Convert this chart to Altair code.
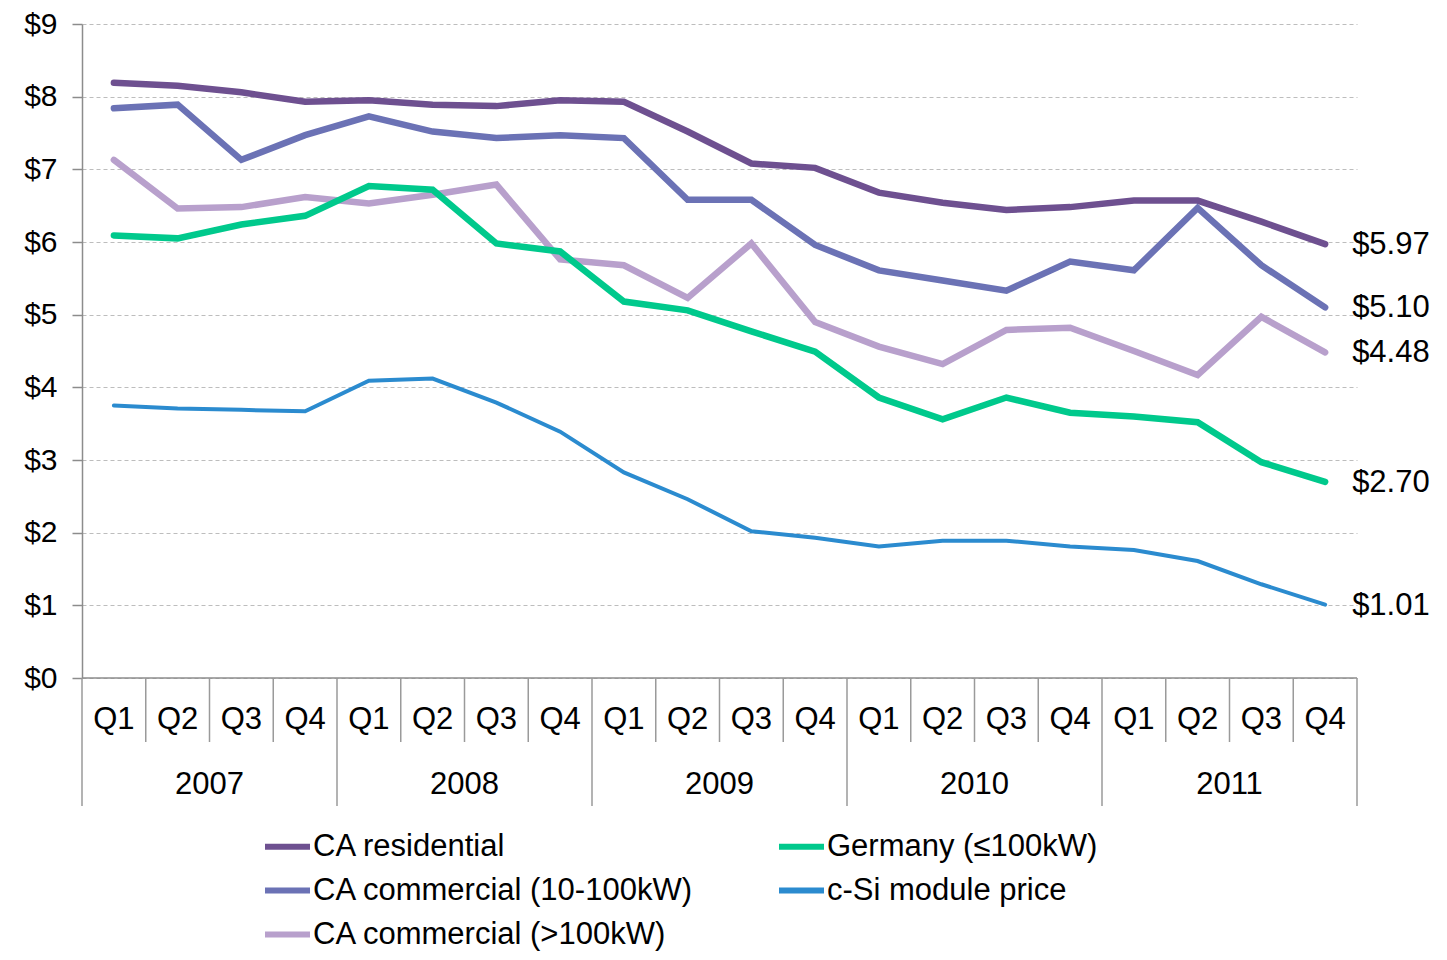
import altair as alt
import pandas as pd

# ---- data ----
quarter_labels = ["Q1", "Q2", "Q3", "Q4"] * 5
year_labels = ["2007", "2008", "2009", "2010", "2011"]

# legend is laid out column by column: left column first, then right column
series_order = [
    "CA residential",
    "CA commercial (10-100kW)",
    "CA commercial (>100kW)",
    "Germany (≤100kW)",
    "c-Si module price",
]
series_colors = ["#6E5090", "#6B72B5", "#B8A0CC", "#00C98C", "#2B8BCF"]

ca_residential = [8.19, 8.15, 8.06, 7.93, 7.95, 7.89, 7.87, 7.95, 7.93, 7.52,
                  7.08, 7.02, 6.68, 6.54, 6.44, 6.48, 6.57, 6.57, 6.28, 5.97]
ca_commercial_small = [7.84, 7.89, 7.13, 7.47, 7.73, 7.52, 7.43, 7.47, 7.43, 6.58,
                       6.58, 5.96, 5.61, 5.47, 5.33, 5.73, 5.61, 6.47, 5.68, 5.10]
ca_commercial_large = [7.13, 6.46, 6.48, 6.62, 6.53, 6.65, 6.79, 5.76, 5.68, 5.23,
                       5.98, 4.90, 4.56, 4.32, 4.79, 4.82, 4.50, 4.17, 4.97, 4.48]
germany = [6.09, 6.05, 6.24, 6.36, 6.77, 6.72, 5.98, 5.87, 5.18, 5.06,
           4.77, 4.49, 3.86, 3.56, 3.86, 3.65, 3.60, 3.52, 2.97, 2.70]
csi_module = [3.75, 3.71, 3.69, 3.67, 4.09, 4.12, 3.79, 3.39, 2.83, 2.46,
              2.02, 1.93, 1.81, 1.89, 1.89, 1.81, 1.76, 1.61, 1.29, 1.01]

y_ticks = list(range(10))

# ---- tables built from the arrays ----
series_values = {
    "CA residential": ca_residential,
    "CA commercial (10-100kW)": ca_commercial_small,
    "CA commercial (>100kW)": ca_commercial_large,
    "Germany (≤100kW)": germany,
    "c-Si module price": csi_module,
}
rows = []
for name, vals in series_values.items():
    for i, v in enumerate(vals):
        rows.append({"idx": i, "value": v, "series": name})
df = pd.DataFrame(rows)

q_df = pd.DataFrame({"idx": list(range(len(quarter_labels))), "label": quarter_labels})
yr_df = pd.DataFrame({"idx": [4 * j + 1.5 for j in range(len(year_labels))], "label": year_labels})
n = len(quarter_labels)
bounds = [b - 0.5 for b in range(n + 1)]
short_df = pd.DataFrame({"b": [b for k, b in enumerate(bounds) if k % 4 != 0]})
long_df = pd.DataFrame({"b": [b for k, b in enumerate(bounds) if k % 4 == 0]})
base_df = pd.DataFrame({"xa": [bounds[0]], "xb": [bounds[-1]], "yv": [0]})

FONT = "Liberation Sans"
FS = 31
W, H = 1275, 654

x_scale = alt.Scale(domain=[bounds[0], bounds[-1]], nice=False, zero=False)
y_scale = alt.Scale(domain=[0, 9], nice=False)

color = alt.Color(
    "series:N",
    scale=alt.Scale(domain=series_order, range=series_colors),
    legend=alt.Legend(
        title=None, orient="none", legendX=180, legendY=797, columns=2,
        symbolType="stroke", symbolSize=2025, symbolStrokeWidth=6,
        labelFontSize=31, labelFont=FONT, labelColor="#000000", labelOffset=0,
        rowPadding=3, columnPadding=73, labelLimit=1000,
    ),
)

thick = alt.Chart(df).transform_filter(alt.datum.series != "c-Si module price").mark_line(
    strokeWidth=6.5, strokeCap="round"
).encode(
    x=alt.X("idx:Q", scale=x_scale, axis=None),
    y=alt.Y("value:Q", scale=y_scale, axis=alt.Axis(
        values=y_ticks, labelExpr="'$' + datum.value", title=None,
        labelFontSize=30, labelFont=FONT, labelColor="#000000", labelPadding=15,
        tickSize=10, tickColor="#8c8c8c", tickWidth=1.5,
        domainColor="#8c8c8c", domainWidth=1.5,
        grid=True, gridColor="#bdbdbd", gridDash=[4, 3], gridWidth=1,
    )),
    color=color,
)

thin = alt.Chart(df).transform_filter(alt.datum.series == "c-Si module price").mark_line(
    strokeWidth=4, strokeCap="round"
).encode(
    x=alt.X("idx:Q", scale=x_scale),
    y=alt.Y("value:Q", scale=y_scale),
    color=color,
)

end_labels = alt.Chart(df).transform_filter(alt.datum.idx == n - 1).mark_text(
    align="left", baseline="middle", dx=27, dy=1, fontSize=FS, font=FONT, color="#000000"
).encode(
    x=alt.X("idx:Q", scale=x_scale),
    y=alt.Y("value:Q", scale=y_scale),
    text=alt.Text("value:Q", format="$.2f"),
)

base_line = alt.Chart(base_df).mark_rule(color="#8c8c8c", strokeWidth=1.5).encode(
    x=alt.X("xa:Q", scale=x_scale), x2="xb:Q", y=alt.Y("yv:Q", scale=y_scale)
)

short_sep = alt.Chart(short_df).mark_rule(color="#9a9a9a", strokeWidth=1.5).encode(
    x=alt.X("b:Q", scale=x_scale), y=alt.value(H), y2=alt.value(H + 64)
)
long_sep = alt.Chart(long_df).mark_rule(color="#9a9a9a", strokeWidth=1.5).encode(
    x=alt.X("b:Q", scale=x_scale), y=alt.value(H), y2=alt.value(H + 128)
)

q_text = alt.Chart(q_df).mark_text(
    baseline="middle", fontSize=FS, font=FONT, color="#000000"
).encode(x=alt.X("idx:Q", scale=x_scale), y=alt.value(H + 42), text="label:N")

yr_text = alt.Chart(yr_df).mark_text(
    baseline="middle", fontSize=FS, font=FONT, color="#000000"
).encode(x=alt.X("idx:Q", scale=x_scale), y=alt.value(H + 107), text="label:N")

chart = alt.layer(
    thick, base_line, short_sep, long_sep, q_text, yr_text, thin, end_labels
).properties(
    width=W, height=H,
    autosize=alt.AutoSizeParams(type="none"),
    padding={"left": 74, "top": 16, "right": 82, "bottom": 274},
).configure_view(stroke=None)

chart.save("out.html", embed_options={"renderer": "svg", "actions": False})
